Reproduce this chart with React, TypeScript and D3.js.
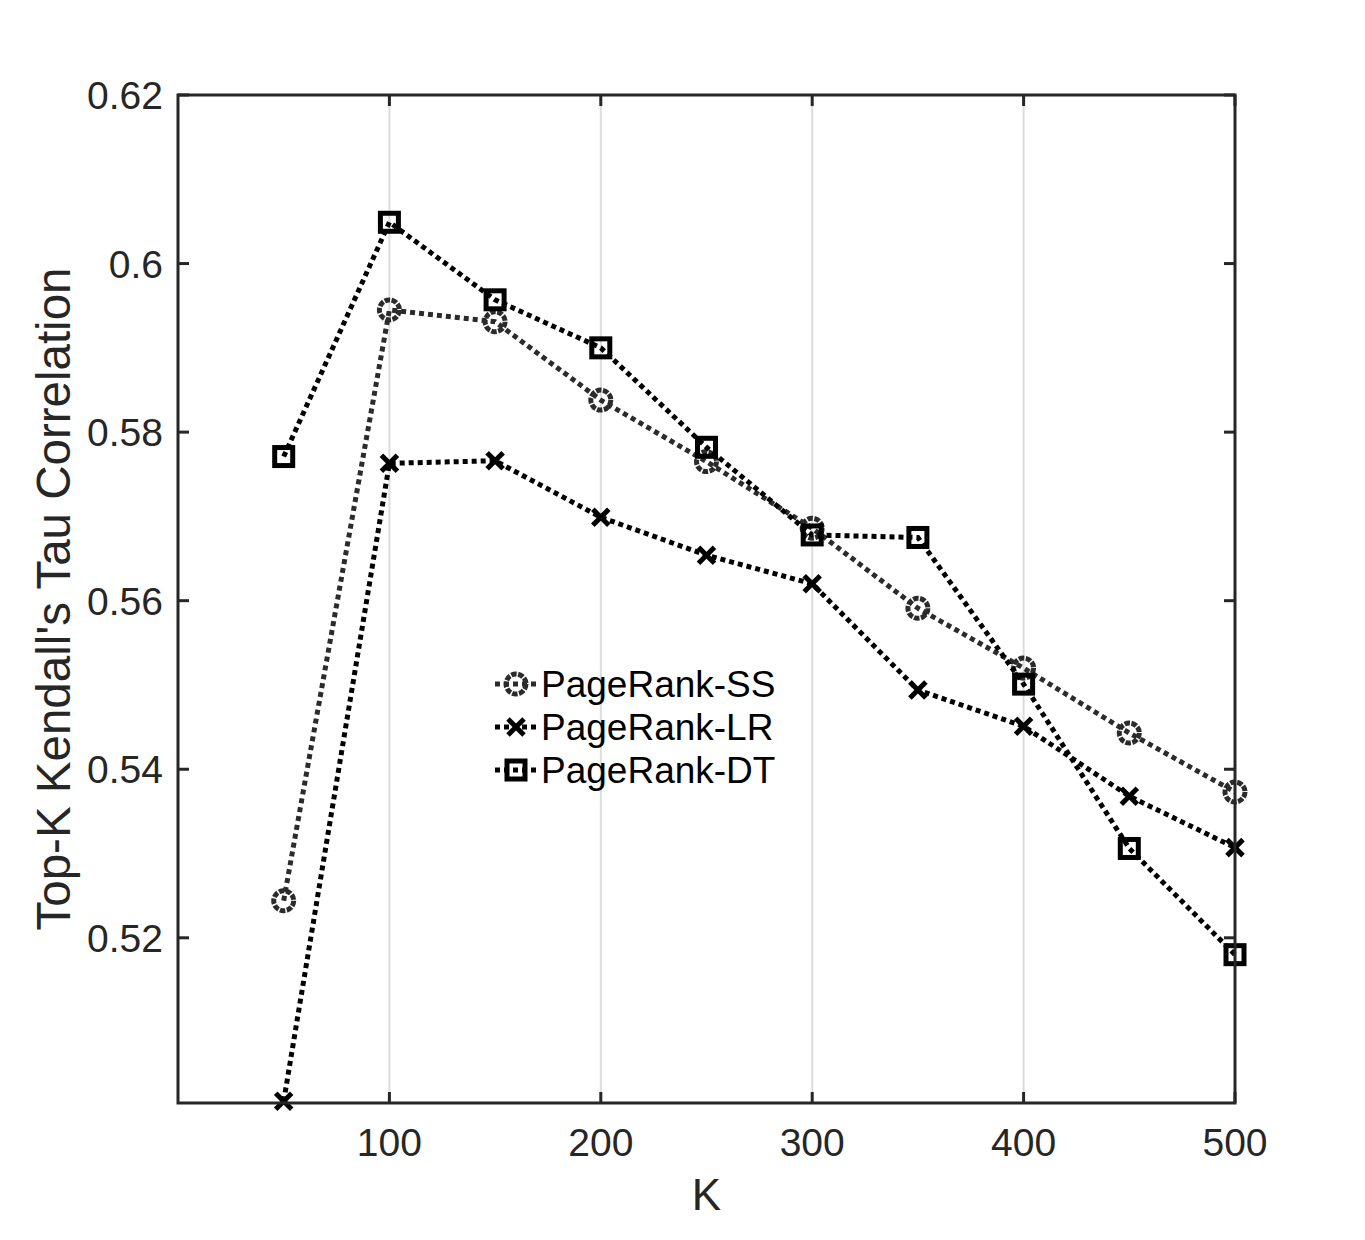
import React from 'react';
import * as d3 from 'd3';

const width = 1365;
const height = 1240;
const margin = { top: 95, right: 130, bottom: 137, left: 178 };

const kValues = [50, 100, 150, 200, 250, 300, 350, 400, 450, 500];
const ssValues = [0.5244, 0.5945, 0.5931, 0.5838, 0.5765, 0.5686, 0.5591, 0.5520, 0.5443, 0.5373];
const lrValues = [0.5006, 0.5763, 0.5766, 0.5699, 0.5654, 0.5620, 0.5494, 0.5451, 0.5368, 0.5307];
const dtValues = [0.5771, 0.6049, 0.5957, 0.5900, 0.5782, 0.5678, 0.5675, 0.5501, 0.5306, 0.5180];

const xTicks = [100, 200, 300, 400, 500];
const yTicks = [0.52, 0.54, 0.56, 0.58, 0.6, 0.62];

const seriesNames = ['PageRank-SS', 'PageRank-LR', 'PageRank-DT'];

type MarkerKind = 'circle' | 'x' | 'square';

interface ISeries {
    name: string;
    values: number[];
    marker: MarkerKind;
    color: string;
}

const series: ISeries[] = [
    { name: seriesNames[0], values: ssValues, marker: 'circle', color: '#2b2b2b' },
    { name: seriesNames[1], values: lrValues, marker: 'x', color: '#000000' },
    { name: seriesNames[2], values: dtValues, marker: 'square', color: '#000000' },
];

const font = '"Liberation Sans", Arial, Helvetica, sans-serif';
const axisColor = '#262626';

const Marker = ({ kind, x, y, color }: { kind: MarkerKind; x: number; y: number; color: string }) => {
    if (kind === 'circle') {
        return <circle cx={x} cy={y} r={10} fill="none" stroke={color} strokeWidth={5} strokeDasharray="5.5 1.5" />;
    }
    if (kind === 'square') {
        return <rect x={x - 9} y={y - 9} width={18} height={18} fill="none" stroke={color} strokeWidth={5} />;
    }
    const s = 8;
    return (
        <g stroke={color} strokeWidth={5}>
            <line x1={x - s} y1={y - s} x2={x + s} y2={y + s} />
            <line x1={x - s} y1={y + s} x2={x + s} y2={y - s} />
        </g>
    );
};

const Chart = () => {
    const x0 = margin.left;
    const x1 = width - margin.right;
    const y0 = margin.top;
    const y1 = height - margin.bottom;

    const xScale = d3.scaleLinear().domain([0, 500]).range([x0, x1]);
    const yScale = d3.scaleLinear().domain([0.5004, 0.62]).range([y1, y0]);

    const line = d3.line<number>()
        .x((_, i) => xScale(kValues[i]))
        .y(d => yScale(d));

    const tickLen = 11;
    const legendX = 495;
    const legendY = [684, 727, 770];

    return (
        <svg
            width={width}
            height={height}
            style={{ position: 'absolute', left: 0, top: 0, display: 'block', background: '#fff' }}
        >
            {/* grid lines */}
            {xTicks.map(t => (
                <line key={`g${t}`} x1={xScale(t)} x2={xScale(t)} y1={y0} y2={y1} stroke="#dcdcdc" strokeWidth={2} />
            ))}

            {/* series */}
            {series.map(s => (
                <g key={s.name}>
                    <path d={line(s.values) || ''} fill="none" stroke={s.color} strokeWidth={5} strokeDasharray="5 4" />
                    {s.values.map((v, i) => (
                        <Marker key={i} kind={s.marker} x={xScale(kValues[i])} y={yScale(v)} color={s.color} />
                    ))}
                </g>
            ))}

            {/* box */}
            <rect x={x0} y={y0} width={x1 - x0} height={y1 - y0} fill="none" stroke={axisColor} strokeWidth={3} />

            {/* x ticks */}
            {xTicks.map(t => (
                <g key={`x${t}`}>
                    <line x1={xScale(t)} x2={xScale(t)} y1={y1} y2={y1 - tickLen} stroke={axisColor} strokeWidth={3} />
                    <line x1={xScale(t)} x2={xScale(t)} y1={y0} y2={y0 + tickLen} stroke={axisColor} strokeWidth={3} />
                    <text x={xScale(t)} y={y1 + 53} textAnchor="middle" fontFamily={font} fontSize={39} fill={axisColor}>
                        {t}
                    </text>
                </g>
            ))}

            {/* y ticks */}
            {yTicks.map(t => (
                <g key={`y${t}`}>
                    <line x1={x0} x2={x0 + tickLen} y1={yScale(t)} y2={yScale(t)} stroke={axisColor} strokeWidth={3} />
                    <line x1={x1} x2={x1 - tickLen} y1={yScale(t)} y2={yScale(t)} stroke={axisColor} strokeWidth={3} />
                    <text x={x0 - 15} y={yScale(t) + 14} textAnchor="end" fontFamily={font} fontSize={39} fill={axisColor}>
                        {String(t)}
                    </text>
                </g>
            ))}

            {/* axis labels */}
            <text x={(x0 + x1) / 2} y={1210} textAnchor="middle" fontFamily={font} fontSize={44} fill={axisColor}>
                K
            </text>
            <text
                transform={`translate(70, ${(y0 + y1) / 2}) rotate(-90)`}
                textAnchor="middle"
                fontFamily={font}
                fontSize={47.5}
                fill={axisColor}
            >
                Top-K Kendall's Tau Correlation
            </text>

            {/* legend */}
            {series.map((s, i) => (
                <g key={`l${s.name}`}>
                    <line x1={legendX} x2={legendX + 43} y1={legendY[i]} y2={legendY[i]} stroke={s.color} strokeWidth={5} strokeDasharray="5 4" />
                    <Marker kind={s.marker} x={legendX + 21} y={legendY[i]} color={s.color} />
                    <text x={legendX + 46} y={legendY[i] + 13} fontFamily={font} fontSize={37} fill="#000">
                        {s.name}
                    </text>
                </g>
            ))}
        </svg>
    );
};

export const App = () => <Chart />;

export default App;
